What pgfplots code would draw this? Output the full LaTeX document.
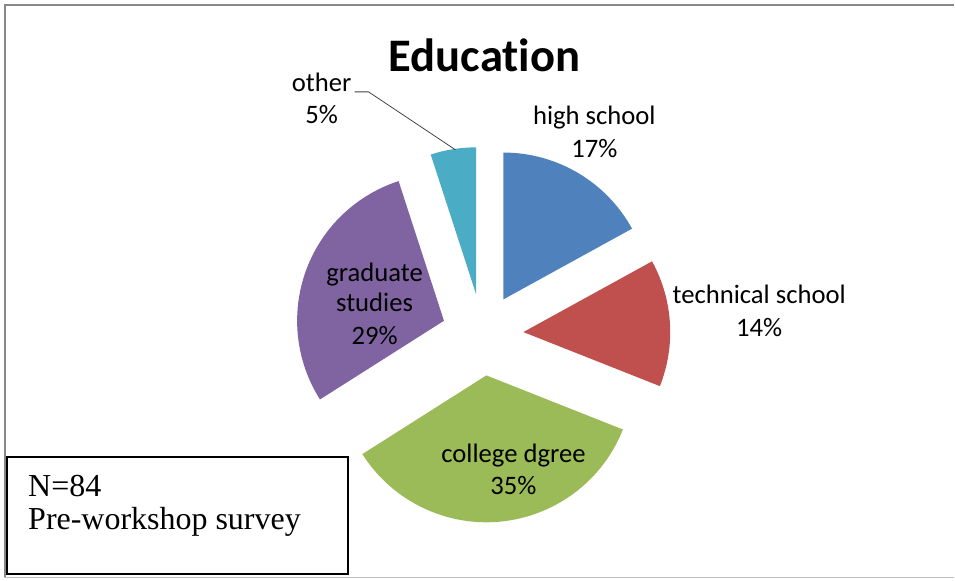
\documentclass[border=0pt]{standalone}
\usepackage{pgfplots}
\pgfplotsset{compat=1.18}
\usepackage{pgfplotstable}
\usepackage{fontspec}
\setmainfont{Carlito}[Ligatures={NoCommon}]
\newfontfamily\timesf{Liberation Serif}

\definecolor{c0}{HTML}{4F81BD}
\definecolor{c1}{HTML}{C0504D}
\definecolor{c2}{HTML}{9BBB59}
\definecolor{c3}{HTML}{8064A2}
\definecolor{c4}{HTML}{4BACC6}

% share of respondents, clockwise from 12 o'clock
\pgfplotstableread{
label value
{high school} 17
{technical school} 14
{college dgree} 35
{graduate studies} 29
other 5
}\edudata

\begin{document}
\begin{tikzpicture}
\begin{axis}[
    x=0.75pt, y=0.75pt,
    xmin=0, xmax=955, ymin=0, ymax=581,
    hide axis, clip=false,
    ]
    \path (axis cs:0,0) rectangle (axis cs:955,581);
    % chart frame
    \draw[color=black!47, line width=1.5pt] (axis cs:4,576) -- (axis cs:955,576);
    \draw[color=black!47, line width=1.5pt] (axis cs:5,577) -- (axis cs:5,3);
    \draw[color=black!25, line width=0.75pt] (axis cs:4,2.5) -- (axis cs:955,2.5);

    % exploded pie
    \pgfmathsetmacro{\startang}{90}
    \pgfplotsinvokeforeach{0,...,4}{
        \pgfplotstablegetelem{#1}{value}\of\edudata
        \pgfmathsetmacro{\endang}{\startang-3.6*\pgfplotsretval}
        \pgfmathsetmacro{\midang}{(\startang+\endang)/2}
        \edef\slice{\noexpand\fill[c#1] (axis cs:483,246) ++(\midang:30.75pt)
            -- ++(\startang:110.25pt)
            arc[start angle=\startang, end angle=\endang, radius=110.25pt] -- cycle;}
        \slice
        \global\let\startang\endang
    }

    \node[anchor=base, font=\fontsize{35}{42}\selectfont\bfseries] at (axis cs:485,509) {Education};

    \tikzset{lbl/.style={anchor=base, font=\fontsize{20}{24}\selectfont}}
    \node[lbl] at (axis cs:322,489) {other};
    \node[lbl] at (axis cs:322,457) {5\%};
    \draw[black!75, line width=0.6pt] (axis cs:355,489) -- (axis cs:369,489) -- (axis cs:456,431);
    \node[lbl] at (axis cs:595,456) {high school};
    \node[lbl] at (axis cs:595,423) {17\%};
    \node[lbl] at (axis cs:760,277) {technical school};
    \node[lbl] at (axis cs:760,244) {14\%};
    \node[lbl] at (axis cs:375,299) {graduate};
    \node[lbl] at (axis cs:375,269) {studies};
    \node[lbl] at (axis cs:375,236) {29\%};
    \node[lbl] at (axis cs:514,118) {college dgree};
    \node[lbl] at (axis cs:514,86) {35\%};

    % note box
    \draw[black, line width=1.5pt, fill=white] (axis cs:7,6) rectangle (axis cs:348,124);
    \node[anchor=base west, font=\timesf\fontsize{24}{28}\selectfont, inner sep=0pt] at (axis cs:28,84) {N=84};
    \node[anchor=base west, font=\timesf\fontsize{24}{28}\selectfont, inner sep=0pt] at (axis cs:28,51) {Pre-workshop survey};
\end{axis}
\end{tikzpicture}
\end{document}
